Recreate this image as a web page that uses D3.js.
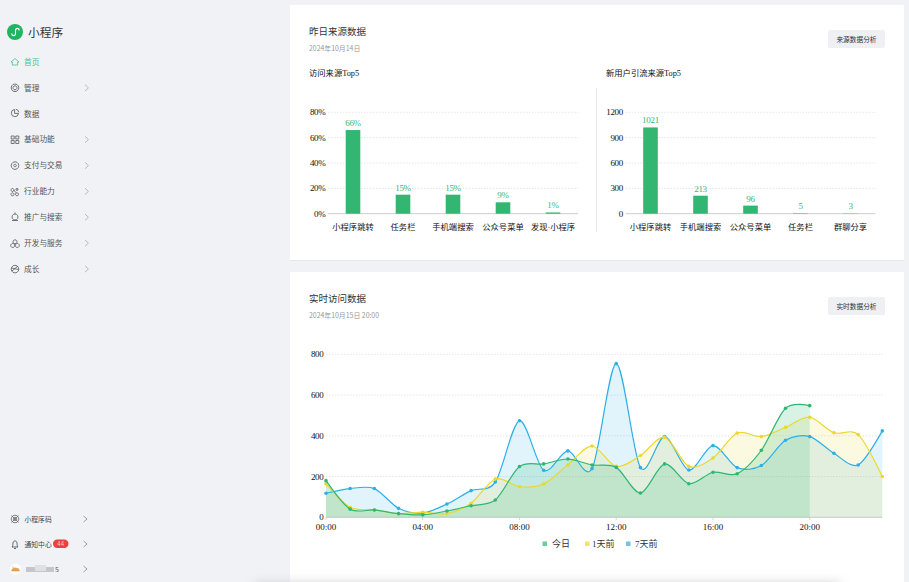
<!DOCTYPE html>
<html><head><meta charset="utf-8">
<script src="https://cdn.jsdelivr.net/npm/d3@7"></script>
<style>
html,body{margin:0;padding:0;background:#f1f2f6;overflow:hidden}
svg{display:block}
text{font-family:"Noto Sans CJK SC","Noto Sans",sans-serif}
.serif{font-family:"Liberation Serif","Noto Sans CJK SC",serif}
</style></head><body>
<svg id="c" width="909" height="582"></svg>
<script>
const menuItems=["首页","管理","数据","基础功能","支付与交易","行业能力","推广与搜索","开发与服务","成长"];
const menuHasArrow=[false,true,false,true,true,true,true,true,true];
const footItems=["小程序码","通知中心"];
const srcCats=["小程序跳转","任务栏","手机端搜索","公众号菜单","发现·小程序"];
const srcVals=[66,15,15,9,1];
const srcTicks=[0,20,40,60,80];
const newCats=["小程序跳转","手机端搜索","公众号菜单","任务栏","群聊分享"];
const newVals=[1021,213,96,5,3];
const newTicks=[0,300,600,900,1200];
const hourTicks=[0,4,8,12,16,20];
const today=[180,40,36,18,12,31,57,85,249,262,286,257,245,119,262,165,221,214,329,535,548];
const dayAgo=[164,49,36,18,25,18,69,188,150,164,258,350,250,303,393,250,291,414,396,442,491,415,406,200];
const weekAgo=[118,141,141,44,21,65,131,173,474,231,326,239,754,244,396,232,352,244,254,378,396,314,257,424];
const lineTicks=[0,200,400,600,800];
const GREEN="#2fb673",YEL="#ecd82c",BLUE="#2dafe8";
const svg=d3.select("#c");
const defs=svg.append("defs");
defs.append("filter").attr("id","blur").attr("x","-10%").attr("y","-200%").attr("width","120%").attr("height","500%")
  .append("feGaussianBlur").attr("stdDeviation",6);
svg.append("rect").attr("width",909).attr("height",582).attr("fill","#f1f2f6");

/* sidebar */
const side=svg.append("g");
side.append("circle").attr("cx",15).attr("cy",32).attr("r",8).attr("fill","#1fb45f");
side.append("path").attr("d","M11.800 33.500c0 2.800 3.700 2.800 3.700 0v-3c0-2.800 3.700-2.800 3.700 0").attr("fill","none").attr("stroke","#fff").attr("stroke-width",1.1);
side.append("text").attr("x",28).attr("y",36.500).attr("font-size",11.700).attr("fill","#333").text("小程序");
const menuY=d3.scalePoint().domain(d3.range(menuItems.length)).range([62,269]);
const icons=[
 "M11 62l4-3.500 4 3.500h-1.300v3h-5.400v-3z",
 "M15 84a3.800 3.800 0 1 0 .01 0M15 85.800a2 2 0 1 0 .01 0",
 "M14.600 109.500a3.600 3.600 0 1 0 3.900 3.900h-3.900zM15.800 109.300a3.400 3.400 0 0 1 3 3",
 "M11.200 136h3v3h-3zM15.800 136h3v3h-3zM11.200 140.500h3v3h-3zM15.800 140.500h3v3h-3z",
 "M15 161.800a3.800 3.800 0 1 0 .01 0M15 164.200a1.300 1.300 0 1 0 .01 0",
 "M12.500 188.500a1.500 1.500 0 1 0 .01 0M17 188.500a1 1 0 1 0 .01 0M12.500 192.800a1.500 1.500 0 1 0 .01 0M17 192.800a1.500 1.500 0 1 0 .01 0M13.500 190l3 3",
 "M15 214a3 3 0 1 0 .01 0M15 214v-1.500M12 220.500h6",
 "M15 239.800a2 2 0 1 0 .01 0M12.700 243.500a2 2 0 1 0 .01 0M17.300 243.500a2 2 0 1 0 .01 0",
 "M15 265.300a3.800 3.800 0 1 0 .01 0M11.500 268l7 1.500M12 271l6-5"
];
menuItems.forEach((t,i)=>{
 const y=menuY(i),col=i===0?"#4cc07f":"#555";
 side.append("path").attr("d",icons[i]).attr("fill","none").attr("stroke",i===0?"#4cc07f":"#555").attr("stroke-width",0.8);
 side.append("text").attr("x",24).attr("y",y+2.800).attr("font-size",7.700).attr("fill",col).text(t);
 if(menuHasArrow[i]) side.append("path").attr("d",`M85 ${y-3.200}l3.400 3.200-3.400 3.200`).attr("fill","none").attr("stroke","#aaa").attr("stroke-width",0.8);
});
side.append("path").attr("d","M15 515.200a3.800 3.800 0 1 0 .01 0M15 517.300a1.700 1.700 0 1 0 .01 0M11.500 515.500l7 7M18.500 515.500l-7 7").attr("fill","none").attr("stroke","#555").attr("stroke-width",0.7);
side.append("path").attr("d","M12 547c1-1 .8-2 1-4 .3-2.800 3.700-2.800 4 0 .2 2 0 3 1 4zM14 548.500h2").attr("fill","none").attr("stroke","#444").attr("stroke-width",0.8);
footItems.forEach((t,i)=>{
 const y=519+25*i;
 side.append("text").attr("x",24.500).attr("y",y+2.500).attr("font-size",6.800).attr("fill","#444").text(t);
 side.append("path").attr("d",`M83.500 ${y-3}l3.600 3-3.600 3`).attr("fill","none").attr("stroke","#999").attr("stroke-width",0.9);
});
side.append("rect").attr("x",53).attr("y",539.500).attr("width",15.500).attr("height",8.500).attr("rx",4.200).attr("fill","#ee3e3e");
side.append("text").attr("x",60.700).attr("y",546).attr("text-anchor","middle").attr("font-size",6).attr("fill","#f8c9c9").text("44");
side.append("circle").attr("cx",15.500).attr("cy",569).attr("r",5.500).attr("fill","#fff");
side.append("path").attr("d","M11.500 571a4 3 0 0 1 8 0zM12 566.500l3 2").attr("fill","#e9a04e").attr("stroke","#e9a04e").attr("stroke-width",0.6);
side.append("rect").attr("x",26).attr("y",567).attr("width",28).attr("height",5).attr("fill","#c4c6cd");
side.append("rect").attr("x",35).attr("y",565).attr("width",11).attr("height",6).attr("fill","#dfe0e5");
side.append("text").attr("x",55).attr("y",571.500).attr("font-size",7).attr("fill","#555").text("5");
side.append("path").attr("d","M83.500 566l3.600 3-3.600 3").attr("fill","none").attr("stroke","#999").attr("stroke-width",0.9);

/* cards */
svg.append("rect").attr("x",290).attr("y",260).attr("width",614).attr("height",1).attr("fill","#e6e7ea");
svg.append("rect").attr("x",290).attr("y",5).attr("width",614).attr("height",255).attr("fill","#fff");
svg.append("rect").attr("x",290).attr("y",272).attr("width",614).attr("height",310).attr("fill","#fff");
svg.append("rect").attr("x",255).attr("y",584).attr("width",585).attr("height",14).attr("fill","#c8c9cd").attr("filter","url(#blur)");
function head(y,t,d,b){
 svg.append("text").attr("x",309).attr("y",y+3.300).attr("font-size",9.500).attr("fill","#333").text(t);
 svg.append("text").attr("x",309).attr("y",y+19).attr("font-size",6.900).attr("fill","#999").text(d);
 svg.append("rect").attr("x",828).attr("y",y-2).attr("width",57).attr("height",18).attr("rx",2).attr("fill","#eef0f3");
 svg.append("text").attr("x",856.500).attr("y",y+9.500).attr("text-anchor","middle").attr("font-size",6.700).attr("fill","#333").text(b);
}
head(32,"昨日来源数据","2024年10月14日","来源数据分析");
head(299,"实时访问数据","2024年10月15日 20:00","实时数据分析");
svg.append("text").attr("class","serif").attr("x",309).attr("y",76).attr("font-size",8.300).attr("fill","#111").text("访问来源Top5");
svg.append("text").attr("class","serif").attr("x",606).attr("y",76).attr("font-size",8.300).attr("fill","#111").text("新用户引流来源Top5");
svg.append("line").attr("x1",596.500).attr("x2",596.500).attr("y1",88).attr("y2",232).attr("stroke","#e6e6e6").attr("stroke-width",0.8);

function grid(g,y,ticks,x0,x1,fmt){
 g.selectAll(".g").data(ticks.filter(d=>d>0)).join("line").attr("x1",x0).attr("x2",x1)
  .attr("y1",d=>y(d)).attr("y2",d=>y(d)).attr("stroke","#e0e0e0").attr("stroke-width",0.8).attr("stroke-dasharray","1.500 1.500");
 g.selectAll(".yl").data(ticks).join("text").attr("class","serif").attr("x",x0-2.500).attr("y",d=>y(d)+3)
  .attr("text-anchor","end").attr("font-size",9).attr("letter-spacing",-0.3).attr("fill","#111").text(fmt);
 g.append("line").attr("x1",x0).attr("x2",x1).attr("y1",y(0)).attr("y2",y(0)).attr("stroke","#c8c8c8").attr("stroke-width",0.9);
}
function bars(x0,x1,cats,vals,ticks,fmt){
 const g=svg.append("g");
 const x=d3.scaleBand().domain(cats).range([x0,x1]);
 const y=d3.scaleLinear().domain([0,ticks[ticks.length-1]]).range([213.700,112.300]);
 grid(g,y,ticks,x0,x1,fmt);
 g.selectAll(".b").data(vals).join("rect").attr("x",(d,i)=>x(cats[i])+x.bandwidth()/2-7.300).attr("width",14.600)
  .attr("y",d=>y(d)).attr("height",d=>y(0)-y(d)).attr("fill","#33b672");
 g.selectAll(".v").data(vals).join("text").attr("class","serif").attr("x",(d,i)=>x(cats[i])+x.bandwidth()/2)
  .attr("y",d=>y(d)-4).attr("text-anchor","middle").attr("font-size",9).attr("letter-spacing",-0.3).attr("fill","#35b878").text(fmt);
 g.selectAll(".c").data(cats).join("text").attr("class","serif").attr("x",d=>x(d)+x.bandwidth()/2)
  .attr("y",230).attr("text-anchor","middle").attr("font-size",8.300).attr("fill","#111").text(d=>d);
}
bars(328,578,srcCats,srcVals,srcTicks,d=>d+"%");
bars(625.500,875.500,newCats,newVals,newTicks,d=>d);

/* realtime chart */
const lg=svg.append("g");
const lx=d3.scaleLinear().domain([0,23]).range([326,882.300]);
const ly=d3.scaleLinear().domain([0,800]).range([517.300,354.300]);
grid(lg,ly,lineTicks,326,882.300,d=>d);
lg.selectAll(".xl").data(hourTicks).join("text").attr("class","serif").attr("x",d=>lx(d)).attr("y",530)
 .attr("text-anchor","middle").attr("font-size",9).attr("fill","#111").text(d=>String(d).padStart(2,"0")+":00");
lg.selectAll(".xt").data(hourTicks).join("line").attr("x1",d=>lx(d)).attr("x2",d=>lx(d)).attr("y1",517.300).attr("y2",520).attr("stroke","#c8c8c8").attr("stroke-width",0.7);
const curve=d3.curveCardinal.tension(0.1);
const area=d3.area().x((d,i)=>lx(i)).y0(ly(0)).y1(d=>ly(d)).curve(curve);
const line=d3.line().x((d,i)=>lx(i)).y(d=>ly(d)).curve(curve);
const series=[[weekAgo,BLUE,0.14],[dayAgo,YEL,0.14],[today,GREEN,0.18]];
series.forEach(([v,c,o])=>lg.append("path").datum(v).attr("d",area).attr("fill",c).attr("fill-opacity",o));
series.forEach(([v,c])=>{
 lg.append("path").datum(v).attr("d",line).attr("fill","none").attr("stroke",c).attr("stroke-width",1.2);
 lg.selectAll(null).data(v).join("circle").attr("cx",(d,i)=>lx(i)).attr("cy",d=>ly(d)).attr("r",1.800).attr("fill",c);
});
const legend=[["今日",GREEN,542.500,552],["1天前",YEL,585,592],["7天前",BLUE,626,635]];
legend.forEach(([t,c,mx,tx])=>{
 lg.append("rect").attr("x",mx).attr("y",541.500).attr("width",4.500).attr("height",4.500).attr("fill",c).attr("fill-opacity",0.7);
 lg.append("text").attr("class","serif").attr("x",tx).attr("y",546.500).attr("font-size",9).attr("fill","#333").text(t);
});
</script></body></html>
